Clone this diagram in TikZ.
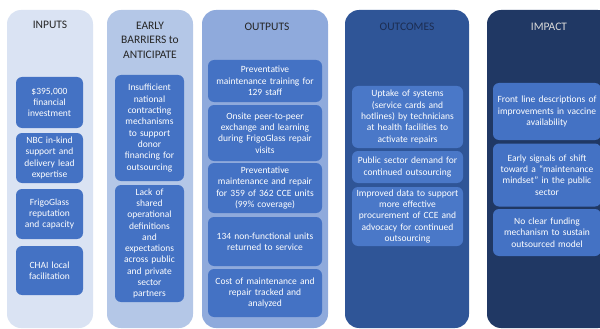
\documentclass[tikz,border=0pt]{standalone}
\usepackage{fontspec}
\setmainfont{Carlito}
\definecolor{colA}{HTML}{DAE3F3}
\definecolor{colB}{HTML}{B4C7E7}
\definecolor{colC}{HTML}{8FAADC}
\definecolor{colD}{HTML}{2F5597}
\definecolor{colE}{HTML}{203864}
\definecolor{boxblue}{HTML}{4472C4}
\definecolor{boxlight}{HTML}{4A78C8}
\definecolor{titledark}{HTML}{262626}
\definecolor{titlenavy}{HTML}{1C2D52}
\definecolor{titlelight}{HTML}{D9D9D9}
\begin{document}
\begin{tikzpicture}[x=1pt,y=-1pt,
  column/.style={rounded corners=14pt, draw=none},
  coltitle/.style={font=\fontsize{11.5}{14.5}\selectfont, align=center, inner sep=0pt},
  itembox/.style={fill=boxblue, rounded corners=6pt, text=white, align=center,
    inner sep=0pt, font=\fontsize{9.5}{11.3}\selectfont},
  lightbox/.style={itembox, fill=boxlight}]
\useasboundingbox (0,0) rectangle (600,329);
\clip (0,0) rectangle (600,329);
% columns
\fill[column, colA] (7,10) rectangle (93,328);
\fill[column, colB] (107,10) rectangle (193,328);
\fill[column, colC] (202,10) rectangle (328,328);
\fill[column, colD] (345,10) rectangle (469,328);
\fill[column, colE] (487,10) rectangle (612,328);
% titles
\node[coltitle, text=titledark] (tin) at (50,25) {INPUTS};
\node[coltitle, text=titledark] (tbar) at (150,40) {EARLY\\BARRIERS to\\ANTICIPATE};
\node[coltitle, text=titledark] (tout) at (267,27) {OUTPUTS};
\node[coltitle, text=titlenavy] (tcome) at (407,27) {OUTCOMES};
\node[coltitle, text=titlelight] (timp) at (549,27) {IMPACT};
% inputs
\node[itembox, minimum width=67pt, minimum height=51pt, text width=63pt] (in1) at (49.5,102.5) {\$395,000\\financial\\investment};
\node[itembox, minimum width=67pt, minimum height=50pt, text width=64pt] (in2) at (49.5,158) {NBC in-kind\\support and\\delivery lead\\expertise};
\node[itembox, minimum width=67pt, minimum height=50pt, text width=64pt] (in3) at (49.5,214) {FrigoGlass\\reputation\\and capacity};
\node[itembox, minimum width=67pt, minimum height=49pt, text width=64pt] (in4) at (49.5,270.5) {CHAI local\\facilitation};
% barriers
\node[itembox, minimum width=69pt, minimum height=106pt, text width=66pt] (b1) at (149.5,128) {Insufficient\\national\\contracting\\mechanisms\\to support\\donor\\financing for\\outsourcing};
\node[itembox, minimum width=69pt, minimum height=117pt, text width=66pt] (b2) at (149.5,243.5) {Lack of\\shared\\operational\\definitions\\and\\expectations\\across public\\and private\\sector\\partners};
% outputs
\node[itembox, minimum width=114pt, minimum height=42pt, text width=112pt] (o1) at (265,81) {Preventative\\maintenance training for\\129 staff};
\node[itembox, minimum width=114pt, minimum height=56pt, text width=112pt] (o2) at (265,133) {Onsite peer-to-peer\\exchange and learning\\during FrigoGlass repair\\visits};
\node[itembox, minimum width=114pt, minimum height=50pt, text width=112pt] (o3) at (265,188) {Preventative\\maintenance and repair\\for 359 of 362 CCE units\\(99\% coverage)};
\node[itembox, minimum width=114pt, minimum height=49pt, text width=112pt] (o4) at (265,241.5) {134 non-functional units\\returned to service};
\node[itembox, minimum width=114pt, minimum height=48pt, text width=112pt] (o5) at (265,293) {Cost of maintenance and\\repair tracked and\\analyzed};
% outcomes
\node[lightbox, minimum width=111pt, minimum height=62pt, text width=109pt] (c1) at (407.5,117) {Uptake of systems\\(service cards and\\hotlines) by technicians\\at health facilities to\\activate repairs};
\node[lightbox, minimum width=111pt, minimum height=32pt, text width=109pt] (c2) at (407.5,167) {Public sector demand for\\continued outsourcing};
\node[lightbox, minimum width=111pt, minimum height=59pt, text width=109pt] (c3) at (407.5,216.5) {Improved data to support\\more effective\\procurement of CCE and\\advocacy for continued\\outsourcing};
% impact
\node[itembox, minimum width=108pt, minimum height=57pt, text width=106pt] (i1) at (547,111.5) {Front line descriptions of\\improvements in vaccine\\availability};
\node[itembox, minimum width=108pt, minimum height=63pt, text width=106pt] (i2) at (547,175) {Early signals of shift\\toward a ``maintenance\\mindset'' in the public\\sector};
\node[itembox, minimum width=108pt, minimum height=47pt, text width=106pt] (i3) at (547,232.5) {No clear funding\\mechanism to sustain\\outsourced model};
\end{tikzpicture}
\end{document}
